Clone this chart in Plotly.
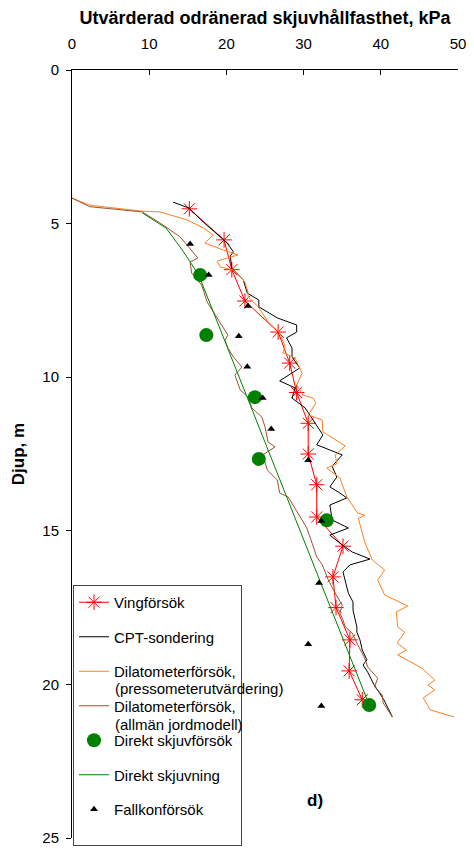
import plotly.graph_objects as go

# Vingförsök
ving_x = [15.2, 19.7, 20.7, 22.4, 26.7, 28.2, 29.1, 30.6, 30.6, 31.7, 31.7, 35.1, 33.8, 34.2, 36.0, 35.9, 37.6]
ving_y = [4.52, 5.53, 6.5, 7.52, 8.53, 9.54, 10.5, 11.5, 12.5, 13.5, 14.55, 15.5, 16.5, 17.5, 18.55, 19.56, 20.5]

# CPT-sondering
cpt_x = [13.1, 15.2, 17.0, 18.5, 20.1, 20.9, 20.5, 20.7, 22.2, 22.7, 24.2, 24.2, 26.6, 29.1, 29.1, 27.8, 28.5,
         28.5, 29.5, 26.9, 28.9, 28.5, 30.2, 32.5, 31.7, 35.0, 33.7, 34.3, 33.4, 34.7, 35.6, 33.4, 33.7, 35.8,
         33.4, 34.7, 36.3, 38.6, 36.0, 35.1, 35.4, 35.8, 36.4, 36.4, 36.9, 36.9, 37.3, 37.6, 38.2, 37.7, 38.3,
         39.1, 40.4, 41.5]
cpt_y = [4.3, 4.5, 4.95, 5.27, 5.63, 5.92, 6.05, 6.45, 6.84, 7.26, 7.49, 7.71, 8.07, 8.3, 8.53, 8.72, 9.05,
         9.34, 9.7, 10.12, 10.35, 10.68, 11.0, 11.88, 12.2, 12.53, 12.9, 13.25, 13.57, 13.77, 13.93, 14.16, 14.65, 14.91,
         15.14, 15.4, 15.69, 15.92, 16.11, 16.34, 16.67, 17.03, 17.32, 17.58, 18.13, 18.3, 18.55, 18.88, 19.2, 19.37, 19.6,
         20.0, 20.5, 21.06]

# Dilatometerförsök (pressometerutvärdering)
dmp_x = [0.0, 2.3, 8.8, 11.4, 14.9, 17.0, 18.3, 17.2, 19.6, 21.5, 18.8, 19.2, 20.9, 22.4, 22.8, 22.8, 24.1, 25.4,
         26.9, 27.6, 27.3, 28.9, 29.8, 29.1, 29.9, 31.2, 31.6, 30.6, 32.4, 32.5, 35.4, 34.1, 34.3, 33.0, 34.7, 35.4,
         35.6, 37.0, 37.9, 37.1, 37.9, 38.9, 40.5, 39.6, 40.5, 43.5, 42.0, 42.2, 43.1, 42.1, 43.3, 42.2, 45.3, 47.0,
         46.1, 47.0, 45.5, 46.4, 49.5]
dmp_y = [4.17, 4.4, 4.59, 4.62, 4.88, 5.14, 5.37, 5.63, 5.86, 6.02, 6.22, 6.41, 6.51, 6.9, 7.23, 7.39, 7.7, 8.2,
         8.56, 9.0, 9.2, 9.38, 9.87, 10.25, 10.58, 10.68, 10.84, 11.23, 11.39, 11.78, 12.24, 12.53, 12.82, 12.96, 13.28, 13.74,
         13.9, 14.42, 14.49, 14.6, 15.36, 15.95, 16.28, 16.6, 17.09, 17.45, 17.64, 18.13, 18.3, 18.65, 18.88, 19.04, 19.47, 19.86,
         20.02, 20.18, 20.44, 20.83, 21.06]

# Dilatometerförsök (allmän jordmodell)
dma_x = [0.0, 2.3, 9.1, 11.4, 14.0, 14.9, 16.3, 15.3, 15.5, 16.8, 17.5, 18.8, 20.2, 19.8, 20.2, 20.9, 22.0, 21.1,
         21.8, 22.8, 23.3, 24.6, 25.0, 25.4, 26.3, 24.7, 25.3, 26.6, 26.9, 28.0, 29.3, 30.4, 31.1, 31.7, 32.4, 33.2,
         34.1, 35.0, 34.7, 35.1, 35.4, 36.3, 36.9, 37.9, 38.3, 39.6, 39.2, 40.2, 40.3, 41.5]
dma_y = [4.17, 4.45, 4.62, 4.98, 5.43, 5.7, 6.12, 6.25, 6.61, 7.0, 7.55, 8.07, 8.63, 8.79, 9.05, 9.34, 9.67, 9.93,
         10.42, 10.64, 11.0, 11.3, 11.62, 12.11, 12.27, 12.53, 13.02, 13.35, 13.77, 13.9, 14.42, 14.9, 15.4, 15.85, 16.1, 16.6,
         17.03, 17.42, 17.68, 17.9, 18.13, 18.33, 18.65, 19.14, 19.43, 19.8, 20.08, 20.35, 20.6, 21.06]

# Direkt skjuvförsök
ds_x = [16.6, 17.4, 23.7, 24.2, 33.0, 38.5]
ds_y = [6.67, 8.63, 10.65, 12.66, 14.66, 20.67]

# Direkt skjuvning
dsl_x = [9.1, 12.2, 14.4, 16.4, 18.5, 20.6, 22.7, 24.8, 26.9, 29.0, 31.1, 33.2, 35.3, 38.5]
dsl_y = [4.65, 5.15, 5.9, 6.67, 8.0, 9.33, 10.67, 12.0, 13.33, 14.67, 16.0, 17.33, 18.67, 20.67]

# Fallkonförsök
fk_x = [15.3, 17.7, 22.8, 21.6, 22.7, 24.7, 25.8, 30.6, 32.3, 32.0, 30.6, 32.3]
fk_y = [5.66, 6.67, 7.68, 8.67, 9.66, 10.68, 11.69, 12.7, 14.68, 16.7, 18.69, 20.7]

x_ticks = [0, 10, 20, 30, 40, 50]
y_ticks = [0, 5, 10, 15, 20, 25]

FONT = "Liberation Sans, Arial, sans-serif"

fig = go.Figure()
fig.add_trace(go.Scatter(x=ving_x, y=ving_y, mode="lines+markers", name="Vingförsök", legendgroup="a",
                         line=dict(color="#FF0000", width=1),
                         marker=dict(symbol="asterisk-open", size=13, color="#FF0000", line=dict(color="#FF0000", width=1))))
fig.add_trace(go.Scatter(x=cpt_x, y=cpt_y, mode="lines", name="CPT-sondering", legendgroup="b",
                         line=dict(color="#000000", width=1)))
fig.add_trace(go.Scatter(x=dmp_x, y=dmp_y, mode="lines", name="Dilatometerförsök,",
                         legendgroup="c", line=dict(color="#FF8020", width=1)))
fig.add_trace(go.Scatter(x=dma_x, y=dma_y, mode="lines", name="Dilatometerförsök,",
                         legendgroup="d", line=dict(color="#A0522D", width=1)))
fig.add_trace(go.Scatter(x=ds_x, y=ds_y, mode="markers", name="Direkt skjuvförsök", legendgroup="e",
                         marker=dict(symbol="circle", size=14, color="#008000")))
fig.add_trace(go.Scatter(x=dsl_x, y=dsl_y, mode="lines", name="Direkt skjuvning", legendgroup="f",
                         line=dict(color="#008000", width=1)))
fig.add_trace(go.Scatter(x=fk_x, y=fk_y, mode="markers", name="Fallkonförsök<br> ", legendgroup="g",
                         marker=dict(symbol="triangle-up", size=7, color="#000000")))

# page body has an 8px margin: the plot area spans page pixels x 72..458, y 70..838
def px_x(p):
    return (p - 72) / 386.0

def px_y(p):
    return (838 - p) / 768.0

fig.update_layout(
    width=458, height=841,
    margin=dict(l=64, r=8, t=62, b=11, autoexpand=False),
    paper_bgcolor="white", plot_bgcolor="white",
    font=dict(family=FONT, size=15, color="#000000"),
    showlegend=True,
    legend=dict(x=px_x(73), y=px_y(585), xanchor="left", yanchor="top",
                bgcolor="white", bordercolor="#444444", borderwidth=1,
                font=dict(family=FONT, size=15), traceorder="grouped",
                tracegroupgap=12, valign="top", itemwidth=30),
    xaxis=dict(side="top", range=[0, 50], tickvals=x_ticks, ticks="inside", ticklen=5,
               tickcolor="#000000", showline=True, linecolor="#000000", linewidth=1,
               showgrid=False, zeroline=False, ticklabelstandoff=14, automargin=False,
               ticklabeloverflow="allow",
               tickfont=dict(family=FONT, size=15),
               title=dict(text="<b>Utvärderad odränerad skjuvhållfasthet, kPa</b>",
                          font=dict(family=FONT, size=18), standoff=7)),
    yaxis=dict(range=[25, 0], tickvals=y_ticks, ticks="outside", ticklen=5,
               tickcolor="#000000", showline=True, linecolor="#000000", linewidth=1,
               showgrid=False, zeroline=False, ticklabelstandoff=4, automargin=False,
               ticklabeloverflow="allow",
               tickfont=dict(family=FONT, size=15),
               title=dict(text="<b>Djup, m</b>", font=dict(family=FONT, size=17), standoff=13)),
    annotations=[
        dict(text="<b>d)</b>", x=px_x(315), y=px_y(812), xref="paper", yref="paper",
             showarrow=False, font=dict(family=FONT, size=17)),
        dict(text="(pressometerutvärdering)", x=px_x(113), y=px_y(688), xref="paper", yref="paper",
             xanchor="left", yanchor="middle", showarrow=False, font=dict(family=FONT, size=15)),
        dict(text="(allmän jordmodell)", x=px_x(113), y=px_y(724), xref="paper", yref="paper",
             xanchor="left", yanchor="middle", showarrow=False, font=dict(family=FONT, size=15)),
    ],
)

fig.write_html("out.html")
